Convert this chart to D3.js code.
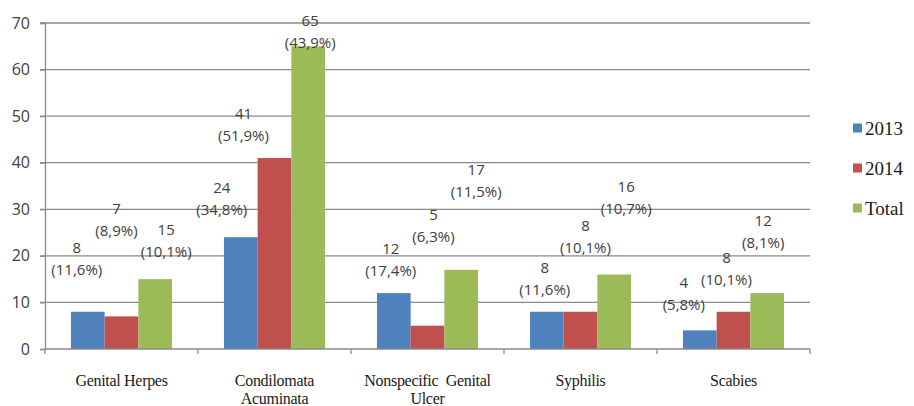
<!DOCTYPE html>
<html>
<head>
<meta charset="utf-8">
<script src="https://cdn.jsdelivr.net/npm/d3@7"></script>
<style>
  html, body { margin: 0; padding: 0; background: #ffffff; }
  svg { display: block; }
</style>
</head>
<body>
<svg id="chart" width="914" height="406"></svg>
<script>
// ---------- DATA ----------
const categories = ["Genital Herpes", "Condilomata Acuminata", "Nonspecific Genital Ulcer", "Syphilis", "Scabies"];
const categoryLines = [["Genital Herpes"], ["Condilomata", "Acuminata"], ["Nonspecific  Genital", "Ulcer"], ["Syphilis"], ["Scabies"]];
const seriesNames = ["2013", "2014", "Total"];
const values2013 = [8, 24, 12, 8, 4];
const values2014 = [7, 41, 5, 8, 8];
const valuesTotal = [15, 65, 17, 16, 12];
const pct2013 = ["11,6%", "34,8%", "17,4%", "11,6%", "5,8%"];
const pct2014 = ["8,9%", "51,9%", "6,3%", "10,1%", "10,1%"];
const pctTotal = ["10,1%", "43,9%", "11,5%", "10,7%", "8,1%"];
const yTicks = [0, 10, 20, 30, 40, 50, 60, 70];

// ---------- LAYOUT / STYLE ----------
const colors = {"2013": "#4F81BD", "2014": "#C0504D", "Total": "#9BBB59"};
// manual label offsets (px) relative to bar centre / bar top, like dragged Excel labels
const labelOffsets = {
  "2013":  [[-11, -64], [-19, -50], [-3, -45], [-2, -44], [-16, -48]],
  "2014":  [[-5, -108], [-31, -44], [6, -111], [5, -86], [-7, -54]],
  "Total": [[11, -50], [2, -26], [15, -100], [12, -88], [-4, -73]]
};
const plot = {left: 45, right: 810, top: 23, bottom: 349};

const valuesBySeries = {"2013": values2013, "2014": values2014, "Total": valuesTotal};
const pctBySeries = {"2013": pct2013, "2014": pct2014, "Total": pctTotal};

const svg = d3.select("#chart");

const x0 = d3.scaleBand().domain(categories).range([plot.left, plot.right]).paddingInner(0).paddingOuter(0);
const x1 = d3.scaleBand().domain(seriesNames).range([0, x0.bandwidth()]).paddingInner(0).paddingOuter(0.77);
const y = d3.scaleLinear().domain([0, 70]).range([plot.bottom, plot.top]);

const gridColor = "#8a8a8a";

// gridlines
svg.append("g").selectAll("line").data(yTicks.filter(t => t > 0)).join("line")
  .attr("x1", plot.left - 5).attr("x2", plot.right)
  .attr("y1", d => y(d)).attr("y2", d => y(d))
  .attr("stroke", gridColor).attr("stroke-width", 1.3);

// y axis
const yAxis = d3.axisLeft(y).tickValues(yTicks).tickSize(5).tickPadding(10).tickFormat(d3.format("d"));
const yg = svg.append("g").attr("transform", `translate(${plot.left},0)`).call(yAxis);
yg.select(".domain").attr("stroke", gridColor).attr("stroke-width", 1.3);
yg.selectAll(".tick line").attr("stroke", gridColor).attr("stroke-width", 1.3);
yg.selectAll(".tick text").attr("font-family", "'Open Sans', sans-serif").attr("font-size", 16).attr("fill", "#404040");

// bars
const groups = svg.append("g").selectAll("g").data(categories).join("g")
  .attr("transform", d => `translate(${x0(d)},0)`);

groups.selectAll("rect").data((c, i) => seriesNames.map(s => ({s, v: valuesBySeries[s][i], i}))).join("rect")
  .attr("x", d => x1(d.s)).attr("width", x1.bandwidth())
  .attr("y", d => y(d.v)).attr("height", d => y(0) - y(d.v))
  .attr("fill", d => colors[d.s]);

// x axis
const xg = svg.append("g");
xg.append("line").attr("x1", plot.left).attr("x2", plot.right).attr("y1", y(0)).attr("y2", y(0))
  .attr("stroke", gridColor).attr("stroke-width", 1.3);
const boundaries = categories.map(c => x0(c)).concat([plot.right]);
xg.selectAll("line.tk").data(boundaries).join("line").attr("class", "tk")
  .attr("x1", d => d).attr("x2", d => d).attr("y1", y(0)).attr("y2", y(0) + 5)
  .attr("stroke", gridColor).attr("stroke-width", 1.3);

const xl = xg.selectAll("text").data(categories).join("text")
  .attr("x", d => x0(d) + x0.bandwidth() / 2)
  .attr("y", 386)
  .attr("text-anchor", "middle")
  .attr("font-family", "'Liberation Serif', 'Times New Roman', serif")
  .attr("font-size", 16).attr("fill", "#1a1a1a").attr("letter-spacing", -0.3)
  .style("white-space", "pre");
xl.selectAll("tspan").data((d, i) => categoryLines[i]).join("tspan")
  .attr("x", function() { return d3.select(this.parentNode).attr("x"); })
  .attr("dy", (d, j) => j === 0 ? 0 : 18)
  .text(d => d);

// data labels
const labelG = svg.append("g")
  .attr("font-family", "'Open Sans', sans-serif").attr("font-size", 15).attr("fill", "#404040")
  .attr("text-anchor", "middle");
seriesNames.forEach(s => {
  categories.forEach((c, i) => {
    const v = valuesBySeries[s][i];
    const cx = x0(c) + x1(s) + x1.bandwidth() / 2 + labelOffsets[s][i][0];
    const cy = y(v) + labelOffsets[s][i][1];
    labelG.append("text").attr("x", cx).attr("y", cy).attr("dy", "0.36em").text(v);
    labelG.append("text").attr("x", cx).attr("y", cy + 22).attr("dy", "0.36em").text("(" + pctBySeries[s][i] + ")");
  });
});

// legend
const legend = svg.append("g").selectAll("g").data(seriesNames).join("g")
  .attr("transform", (d, i) => `translate(853, ${128 + i * 40})`);
legend.append("rect").attr("x", 0).attr("y", -4.5).attr("width", 9).attr("height", 9).attr("fill", d => colors[d]);
legend.append("text").attr("x", 12).attr("y", 0).attr("dy", "0.35em")
  .attr("font-family", "'Liberation Serif', 'Times New Roman', serif")
  .attr("font-size", 19).attr("fill", "#1a1a1a").text(d => d);
</script>
</body>
</html>
